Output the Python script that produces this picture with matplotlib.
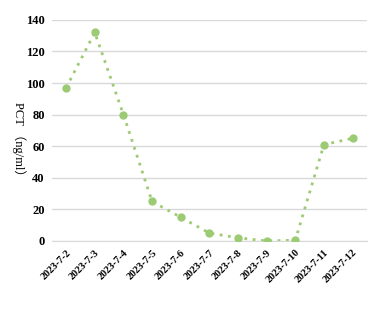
import matplotlib.pyplot as plt

dates = ["2023-7-2", "2023-7-3", "2023-7-4", "2023-7-5", "2023-7-6", "2023-7-7",
         "2023-7-8", "2023-7-9", "2023-7-10", "2023-7-11", "2023-7-12"]
pct = [97, 132, 80, 25, 15, 5, 2, 0, 0.5, 61, 65]
yticks = [0, 20, 40, 60, 80, 100, 120, 140]

green = "#9DCB74"
fam = ["Liberation Serif", "Noto Sans CJK SC"]

fig = plt.figure(figsize=(3.81, 3.15), dpi=100)
ax = fig.add_axes([0.136, 0.235, 0.827, 0.702])

x = list(range(len(dates)))
ax.plot(x, pct, linestyle=(0, (1, 2)), linewidth=2, color=green,
        marker="o", markersize=5, zorder=3)

ax.set_xlim(-0.5, len(dates) - 0.5)
ax.set_ylim(0, 140)
ax.set_yticks(yticks)
ax.set_xticks(x)
ax.set_xticklabels(dates, rotation=45, ha="right", rotation_mode="anchor",
                   family=fam, fontweight="bold", fontsize=7.5)
for lab in ax.get_yticklabels():
    lab.set_family(fam)
    lab.set_fontweight("bold")
    lab.set_fontsize(9)

ax.grid(axis="y", color="#d9d9d9", linewidth=1)
ax.set_axisbelow(True)
for s in ["top", "right", "left"]:
    ax.spines[s].set_visible(False)
ax.spines["bottom"].set_color("#d9d9d9")
ax.tick_params(axis="y", length=0, pad=5)
ax.tick_params(axis="x", length=0, pad=5)

fig.text(0.05, 0.55, "PCT （ng/ml）", rotation=270, ha="center", va="center",
         family=fam, fontsize=9)

fig.savefig("out.png")
